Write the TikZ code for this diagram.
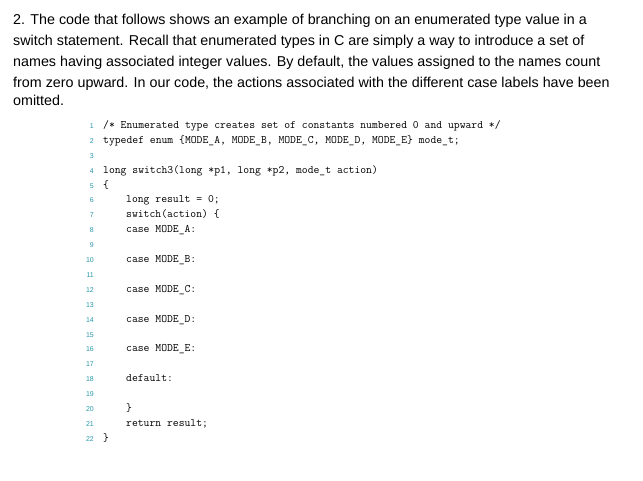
\documentclass[tikz,border=0pt]{standalone}
\usepackage{fontspec}
\setmainfont{Liberation Sans}
\setmonofont{Latin Modern Mono}
\definecolor{lnum}{RGB}{40,150,170}
\begin{document}
\begin{tikzpicture}[x=1pt,y=-1pt,
  body/.style={anchor=base west,inner sep=0pt,font=\fontsize{14.3}{16}\selectfont},
  code/.style={anchor=base west,inner sep=0pt,font=\fontsize{11.35}{12}\ttfamily},
  num/.style={anchor=base east,inner sep=0pt,text=lnum,font=\fontsize{7}{8}\selectfont}]
\useasboundingbox (0,0) rectangle (643,481);
\node[body] (t1) at (13,25) {2. The code that follows shows an example of branching on an enumerated type value in a};
\node[body] (t2) at (13,46) {switch statement. Recall that enumerated types in C are simply a way to introduce a set of};
\node[body] (t3) at (13,67) {names having associated integer values. By default, the values assigned to the names count};
\node[body] (t4) at (13,88) {from zero upward. In our code, the actions associated with the different case labels have been};
\node[body] (t5) at (13,106) {omitted.};
\foreach \n in {1,...,22} \node[num] (n\n) at (94,{128.5+(\n-1)*14.9}) {\n};
\def\cl#1#2#3{\node[code] (c#1) at (#2,{128.5+(#1-1)*14.9}) {#3};}
\cl{1}{103}{/* Enumerated type creates set of constants numbered 0 and upward */}
\cl{2}{103}{typedef enum \{MODE\_A, MODE\_B, MODE\_C, MODE\_D, MODE\_E\} mode\_t;}
\cl{4}{103}{long switch3(long *p1, long *p2, mode\_t action)}
\cl{5}{103}{\{}
\cl{6}{126}{long result = 0;}
\cl{7}{126}{switch(action) \{}
\cl{8}{126}{case MODE\_A:}
\cl{10}{126}{case MODE\_B:}
\cl{12}{126}{case MODE\_C:}
\cl{14}{126}{case MODE\_D:}
\cl{16}{126}{case MODE\_E:}
\cl{18}{126}{default:}
\cl{20}{126}{\}}
\cl{21}{126}{return result;}
\cl{22}{103}{\}}
\end{tikzpicture}
\end{document}
